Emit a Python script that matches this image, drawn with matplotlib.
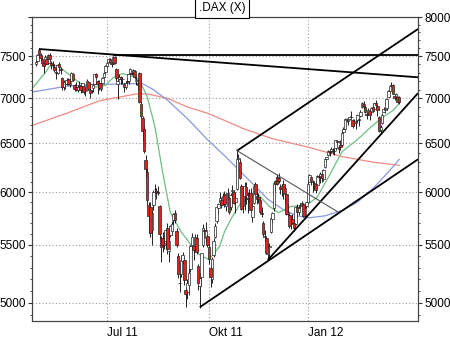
import matplotlib
matplotlib.use("Agg")
import matplotlib.pyplot as plt
from matplotlib.ticker import FixedLocator, FuncFormatter, NullFormatter
import numpy as np
import pandas as pd

plt.rcParams["font.family"] = ["Liberation Sans", "DejaVu Sans"]
plt.rcParams["font.size"] = 8.5

# trading days (Xetra), Apr 28 2011 .. Mar 23 2012
holidays = ["2011-12-26"]
dates = pd.bdate_range("2011-04-28", "2012-03-23").drop(pd.Timestamp("2011-12-26"))

opens = [
    7400, 7440,  # Apr
    7580, 7520, 7470, 7420, 7400, 7470, 7420, 7510, 7420, 7410, 7370, 7310, 7300, 7400, 7350, 7240,
    7130, 7170, 7170, 7230, 7150, 7200,  # May
    7290, 7150, 7130, 7100, 7140, 7140, 7090, 7140, 7080, 7100, 7190, 7090, 7090, 7120, 7170, 7280,
    7200, 7180, 7110, 7180, 7250, 7310,  # Jun
    7380, 7430, 7470, 7420, 7410, 7490, 7350, 7170, 7230, 7250, 7230, 7170, 7130, 7200, 7200, 7300,
    7300, 7300, 7320, 7200, 7180,  # Jul
    7300, 6930, 6780, 6660, 6320, 6200, 5870, 5850, 5640, 5870, 6030, 6010, 6000, 5860, 5560, 5560,
    5500, 5540, 5660, 5450, 5590, 5630, 5730,  # Aug
    5800, 5630, 5400, 5170, 5240, 5360, 5370, 5110, 5090, 5150, 5290, 5500, 5490, 5480, 5560, 5310,
    5140, 5220, 5500, 5640, 5560, 5580,  # Sep
    5480, 5300, 5200, 5410, 5570, 5720, 5840, 5900, 5920, 5900, 5970, 5860, 5980, 5940, 5850, 6010,
    6000, 5900, 6030, 6330, 6300,  # Oct
    6060, 5860, 5960, 6050, 5940, 5940, 5990, 5760, 5890, 6080, 5960, 5950, 5920, 5800, 5700, 5570,
    5560, 5420, 5480, 5620, 5740, 5840,  # Nov
    6110, 6150, 6140, 6050, 6040, 6080, 5980, 5980, 5790, 5780, 5690, 5740, 5700, 5690, 5850, 5810,
    5860, 5880, 5880, 5770, 5860,  # Dec
    5900, 6100, 6150, 6100, 6090, 6080, 6070, 6160, 6150, 6180, 6130, 6250, 6330, 6380, 6420, 6410,
    6420, 6420, 6450, 6530, 6460, 6480,  # Jan
    6480, 6620, 6660, 6750, 6740, 6770, 6790, 6750, 6720, 6720, 6750, 6760, 6800, 6900, 6930, 6900,
    6820, 6830, 6850, 6840, 6900,  # Feb
    6880, 6950, 6910, 6790, 6640, 6720, 6840, 6870, 6890, 7020, 7080, 7150, 7150, 7030, 7010, 7020,
    7010,  # Mar
]
highs = [
    7450, 7530,
    7600, 7540, 7490, 7450, 7520, 7500, 7530, 7540, 7440, 7440, 7390, 7340, 7410, 7430, 7370, 7250,
    7210, 7200, 7240, 7240, 7190, 7310,
    7300, 7170, 7190, 7150, 7200, 7160, 7180, 7150, 7120, 7220, 7200, 7130, 7170, 7160, 7290, 7300,
    7210, 7210, 7180, 7250, 7310, 7390,
    7430, 7480, 7480, 7440, 7500, 7500, 7360, 7230, 7290, 7260, 7250, 7180, 7200, 7240, 7300, 7360,
    7320, 7350, 7330, 7260, 7220,
    7310, 6960, 6800, 6690, 6380, 6240, 5900, 5900, 5830, 6020, 6080, 6040, 6060, 5870, 5580, 5620,
    5620, 5650, 5700, 5590, 5680, 5720, 5800,
    5830, 5660, 5430, 5350, 5400, 5440, 5400, 5130, 5200, 5300, 5500, 5610, 5510, 5600, 5600, 5330,
    5250, 5430, 5690, 5660, 5710, 5600,
    5510, 5320, 5390, 5560, 5700, 5860, 5890, 6000, 5950, 5990, 6010, 5990, 6040, 5950, 5990, 6070,
    6020, 5990, 6430, 6390, 6330,
    6080, 5990, 6100, 6100, 6000, 6030, 6040, 5880, 6070, 6100, 6020, 5990, 5950, 5850, 5720, 5640,
    5580, 5500, 5520, 5760, 5810, 6100,
    6120, 6180, 6190, 6080, 6080, 6120, 6060, 5990, 5880, 5800, 5760, 5790, 5720, 5860, 5880, 5870,
    5890, 5910, 5890, 5860, 5900,
    6120, 6180, 6150, 6120, 6110, 6110, 6170, 6180, 6200, 6220, 6230, 6350, 6360, 6430, 6440, 6460,
    6450, 6450, 6540, 6540, 6480, 6540,
    6640, 6680, 6780, 6780, 6770, 6800, 6860, 6760, 6760, 6750, 6820, 6780, 6870, 6960, 6970, 6910,
    6840, 6890, 6880, 6900, 6950,
    6950, 6980, 6920, 6800, 6700, 6830, 6900, 6890, 7000, 7090, 7150, 7190, 7160, 7050, 7060, 7030,
    7030,
]
lows = [
    7380, 7430,
    7500, 7440, 7390, 7300, 7390, 7400, 7410, 7440, 7340, 7360, 7310, 7230, 7290, 7350, 7290, 7090,
    7100, 7110, 7150, 7150, 7130, 7190,
    7200, 7080, 7080, 7070, 7120, 7060, 7070, 7050, 7030, 7090, 7100, 7000, 7060, 7070, 7160, 7230,
    7050, 7100, 7080, 7160, 7240, 7300,
    7360, 7420, 7420, 7370, 7400, 7400, 7200, 6990, 7210, 7170, 7170, 7070, 7110, 7170, 7170, 7290,
    7270, 7290, 7230, 7150, 7100,
    6950, 6780, 6530, 6400, 6150, 5870, 5610, 5570, 5500, 5830, 5980, 5930, 5970, 5550, 5350, 5440,
    5460, 5460, 5420, 5350, 5570, 5590, 5680,
    5700, 5480, 5210, 5090, 5220, 5330, 5150, 4965, 5030, 5070, 5260, 5480, 5370, 5450, 5420, 5110,
    4960, 5140, 5480, 5580, 5530, 5480,
    5330, 5130, 5170, 5390, 5560, 5700, 5790, 5880, 5840, 5880, 5850, 5820, 5930, 5790, 5830, 5980,
    5880, 5800, 6020, 6300, 6130,
    5830, 5800, 5830, 5880, 5800, 5900, 5810, 5710, 5880, 5980, 5880, 5890, 5800, 5760, 5570, 5540,
    5420, 5370, 5370, 5610, 5700, 5820,
    6010, 6070, 6090, 5980, 5960, 5930, 5880, 5780, 5770, 5660, 5650, 5690, 5630, 5680, 5750, 5780,
    5840, 5860, 5760, 5740, 5840,
    5900, 6100, 6070, 6000, 6030, 5990, 6060, 6110, 6090, 6100, 6110, 6240, 6300, 6370, 6370, 6400,
    6390, 6380, 6430, 6480, 6400, 6430,
    6470, 6610, 6640, 6730, 6700, 6750, 6760, 6670, 6700, 6660, 6730, 6690, 6790, 6890, 6880, 6830,
    6770, 6820, 6750, 6830, 6840,
    6870, 6900, 6800, 6620, 6610, 6710, 6840, 6830, 6870, 7010, 7070, 7130, 7050, 6980, 6990, 6940,
    6930,
]
closes = [
    7430, 7514,
    7527, 7475, 7412, 7376, 7492, 7411, 7513, 7461, 7395, 7391, 7337, 7297, 7396, 7374, 7331, 7126,
    7190, 7164, 7213, 7164, 7173, 7294,
    7217, 7108, 7092, 7131, 7159, 7090, 7173, 7070, 7084, 7201, 7111, 7060, 7164, 7150, 7286, 7245,
    7167, 7121, 7172, 7236, 7295, 7376,
    7419, 7470, 7433, 7400, 7490, 7419, 7231, 7203, 7251, 7230, 7220, 7133, 7183, 7194, 7290, 7344,
    7287, 7328, 7253, 7214, 7158,
    6953, 6797, 6637, 6414, 6236, 5923, 5764, 5613, 5798, 5997, 6034, 5996, 5994, 5602, 5480, 5499,
    5518, 5637, 5460, 5538, 5671, 5696, 5785,
    5727, 5504, 5247, 5164, 5368, 5410, 5189, 5072, 5166, 5254, 5488, 5574, 5451, 5571, 5434, 5164,
    5208, 5426, 5653, 5628, 5639, 5502,
    5377, 5217, 5377, 5540, 5676, 5853, 5880, 5946, 5877, 5958, 5880, 5980, 5990, 5810, 5970, 6020,
    5890, 5940, 6333, 6346, 6141,
    5835, 5960, 6058, 5966, 5929, 5962, 5830, 5867, 6057, 5985, 5933, 5935, 5811, 5790, 5596, 5584,
    5428, 5494, 5492, 5745, 5800, 6089,
    6080, 6080, 6106, 6028, 6062, 5995, 6044, 5785, 5805, 5675, 5730, 5701, 5655, 5853, 5811, 5847,
    5878, 5890, 5771, 5849, 5898,
    6075, 6166, 6111, 6096, 6057, 6018, 6162, 6152, 6179, 6143, 6220, 6332, 6354, 6416, 6404, 6436,
    6419, 6421, 6539, 6511, 6444, 6458,
    6616, 6656, 6766, 6764, 6754, 6784, 6790, 6692, 6738, 6728, 6815, 6753, 6849, 6948, 6914, 6843,
    6810, 6864, 6808, 6887, 6856,
    6941, 6921, 6866, 6633, 6680, 6810, 6880, 6873, 6995, 7080, 7144, 7157, 7054, 7004, 7050, 6955,
    6960,
]

# moving averages (20 / 100 / 200 days)
ma20_dates = ["2011-04-25", "2011-05-06", "2011-05-11", "2011-05-18", "2011-05-26", "2011-06-08",
              "2011-06-22", "2011-06-30", "2011-07-07", "2011-07-15", "2011-07-27", "2011-08-01",
              "2011-08-08", "2011-08-15", "2011-08-22", "2011-08-29", "2011-09-07", "2011-09-16",
              "2011-09-23", "2011-10-03", "2011-10-12", "2011-10-17", "2011-10-24", "2011-10-31",
              "2011-11-08", "2011-11-15", "2011-11-25", "2011-12-05", "2011-12-15", "2011-12-30",
              "2012-01-10", "2012-01-20", "2012-02-01", "2012-02-15", "2012-02-28", "2012-03-08",
              "2012-03-19", "2012-03-23"]
ma20_vals = [7100, 7300, 7380, 7390, 7300, 7170, 7130, 7150, 7240, 7290, 7250, 7210,
             7020, 6680, 6200, 5800, 5620, 5490, 5410, 5370, 5490, 5620, 5760, 5880,
             5950, 5990, 5860, 5800, 5860, 5870, 5950, 6170, 6410, 6540, 6680, 6780,
             6860, 6940]
ma100_dates = ["2011-04-25", "2011-05-26", "2011-06-24", "2011-07-26", "2011-08-03", "2011-08-12",
               "2011-08-25", "2011-09-13", "2011-09-30", "2011-10-17", "2011-11-15", "2011-11-24",
               "2011-12-09", "2011-12-21", "2012-01-02", "2012-01-17", "2012-02-01", "2012-02-15",
               "2012-03-01", "2012-03-14", "2012-03-23"]
ma100_vals = [7070, 7140, 7160, 7170, 7170, 7100, 6980, 6770, 6540, 6370, 6040, 5930,
              5820, 5770, 5750, 5770, 5820, 5900, 6050, 6200, 6330]
ma200_dates = ["2011-04-25", "2011-05-26", "2011-06-24", "2011-07-28", "2011-08-08", "2011-08-25",
               "2011-09-13", "2011-09-30", "2011-10-17", "2011-11-02", "2011-11-29", "2012-01-02",
               "2012-02-01", "2012-03-01", "2012-03-23"]
ma200_vals = [6690, 6830, 6970, 7050, 7050, 7000, 6900, 6830, 6750, 6660, 6550, 6460,
              6360, 6300, 6270]

# trend lines: (start date, start price, second date, second price), extended to the right edge
trend_lines = [
    ("2011-05-02", 7590, "2012-03-23", 7262),
    ("2011-07-07", 7520, "2012-03-23", 7520),
    ("2011-10-27", 6420, "2012-03-23", 7682),
    ("2011-09-23", 4965, "2012-03-23", 6200),
    ("2011-11-24", 5365, "2012-03-23", 6820),
]
channel_line = ("2011-10-27", 6424, "2012-01-27", 5810)

y_levels = [5000, 5500, 6000, 6500, 7000, 7500, 8000]
x_ticks = ["2011-07-01", "2011-10-03", "2012-01-02"]
x_labels = ["Jul 11", "Okt 11", "Jan 12"]

start = "2011-04-28"


def xpos(d):
    return np.busday_count(start, np.array(d, dtype="datetime64[D]"), holidays=holidays)


x = xpos(dates.strftime("%Y-%m-%d").tolist())
o = np.array(opens)
h = np.array(highs)
l = np.array(lows)
c = np.array(closes)

fig = plt.figure(figsize=(4.5, 3.38), dpi=100)
ax = fig.add_axes([32 / 450, 1 - 321 / 338, 386 / 450, 304 / 338])
ax.set_yscale("log")
x_right = 247.2
ax.set_xlim(-2.5, x_right)
ax.set_ylim(4854, 8000)

grid_kw = dict(color="#9a9a9a", lw=0.8, linestyle=(0, (1, 2)), zorder=0)
for v in y_levels:
    ax.axhline(v, **grid_kw)
for d in x_ticks:
    ax.axvline(xpos(d), **grid_kw)

ax.plot(xpos(ma200_dates), ma200_vals, color="#f28a82", lw=0.9, zorder=2)
ax.plot(xpos(ma100_dates), ma100_vals, color="#8898e0", lw=0.9, zorder=2)
ax.plot(xpos(ma20_dates), ma20_vals, color="#6fbf82", lw=0.9, zorder=2)

# candles
ax.vlines(x, np.minimum(l, np.minimum(o, c)), np.maximum(h, np.maximum(o, c)),
          color="black", lw=0.6, zorder=3)
up = c >= o
body_lo = np.minimum(o, c)
body_hi = np.maximum(o, c)
ax.bar(x[up], body_hi[up] - body_lo[up], bottom=body_lo[up], width=1.7,
       color="white", edgecolor="#222222", linewidth=0.5, zorder=4)
ax.bar(x[~up], body_hi[~up] - body_lo[~up], bottom=body_lo[~up], width=1.7,
       color="#e3231b", edgecolor="#222222", linewidth=0.5, zorder=4)

# trend lines (straight on the log axis)
for d0, p0, d1, p1 in trend_lines:
    x0, x1 = xpos(d0), xpos(d1)
    pe = p0 * (p1 / p0) ** ((x_right - x0) / (x1 - x0))
    ax.plot([x0, x_right], [p0, pe], color="black", lw=1.3, zorder=5, solid_capstyle="butt")
d0, p0, d1, p1 = channel_line
ax.plot([xpos(d0), xpos(d1)], [p0, p1], color="#555555", lw=0.8, zorder=5)

# left labels (no 8000) and right labels on a twin axis
ax.yaxis.set_major_locator(FixedLocator(y_levels))
ax.yaxis.set_major_formatter(FuncFormatter(lambda v, p: "" if v >= 8000 else f"{v:.0f}"))
ax.yaxis.set_minor_locator(FixedLocator(list(range(4900, 8000, 100))))
ax.yaxis.set_minor_formatter(NullFormatter())

axr = ax.twinx()
axr.set_yscale("log")
axr.set_ylim(ax.get_ylim())
axr.yaxis.set_major_locator(FixedLocator(y_levels))
axr.yaxis.set_major_formatter(FuncFormatter(lambda v, p: f"{v:.0f}"))
axr.yaxis.set_minor_locator(FixedLocator(list(range(4900, 8000, 100))))
axr.yaxis.set_minor_formatter(NullFormatter())

for a in (ax, axr):
    a.tick_params(axis="y", which="both", direction="out", colors="#333333", labelcolor="black")
    a.tick_params(axis="y", which="major", length=3, pad=1.5)
    a.tick_params(axis="y", which="minor", length=1.5)
    for s in a.spines.values():
        s.set_color("#444444")
        s.set_linewidth(0.8)

# month labels start at the gridline
ax.set_xticks(xpos(x_ticks))
ax.set_xticklabels(x_labels, ha="left")
ax.tick_params(axis="x", length=0, pad=4)

fig.text(222 / 450, 1 - 8 / 338, ".DAX (X)", ha="center", va="center",
         bbox=dict(boxstyle="square,pad=0.3", fc="white", ec="black", lw=0.8))

fig.savefig("out.png", dpi=100)
